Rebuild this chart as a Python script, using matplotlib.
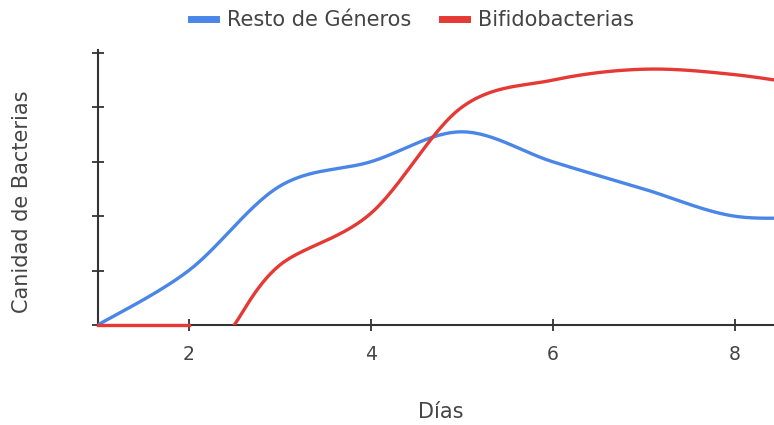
import numpy as np
import matplotlib.pyplot as plt
from matplotlib.lines import Line2D

# knots (Días vs relative count)
dias_resto = [1, 2, 3, 4, 5, 6, 7, 8, 9]
resto_generos = [0, 1.0, 2.55, 3.0, 3.55, 3.0, 2.5, 2.0, 2.0]

dias_bifido_a = [1, 2]
bifido_a = [0, 0]
dias_bifido_b = [2.5, 3, 4, 5, 6, 7, 8, 9]
bifido_b = [0, 1.1, 2.05, 4.0, 4.5, 4.7, 4.6, 4.35]

x_ticks = [2, 4, 6, 8]
y_ticks = [0, 1, 2, 3, 4, 5]

BLUE = '#4a86e8'
RED = '#e53935'
GREY = '#444444'


def smooth(xs, ys, n=30, k=1 / 6):
    # cardinal-spline style bezier through the knots, like a chart "function" curve
    xs = np.asarray(xs, float)
    ys = np.asarray(ys, float)
    if len(xs) < 3:
        return xs, ys
    px = np.concatenate([[xs[0]], xs, [xs[-1]]])
    py = np.concatenate([[ys[0]], ys, [ys[-1]]])
    outx, outy = [], []
    t = np.linspace(0, 1, n)
    for i in range(1, len(px) - 2):
        p0 = np.array([px[i], py[i]])
        p3 = np.array([px[i + 1], py[i + 1]])
        c1 = p0 + k * (p3 - np.array([px[i - 1], py[i - 1]]))
        c2 = p3 - k * (np.array([px[i + 2], py[i + 2]]) - p0)
        pts = ((1 - t) ** 3)[:, None] * p0 + (3 * (1 - t) ** 2 * t)[:, None] * c1 \
            + (3 * (1 - t) * t ** 2)[:, None] * c2 + (t ** 3)[:, None] * p3
        outx.extend(pts[:, 0])
        outy.extend(pts[:, 1])
    return np.array(outx), np.array(outy)


plt.rcParams['font.family'] = ['DejaVu Sans']

fig = plt.figure(figsize=(7.74, 4.25), dpi=100)
ax = fig.add_axes([0.126, 0.235, 0.874, 0.647])

bx, by = smooth(dias_resto, resto_generos)
ax.plot(bx, by, color=BLUE, lw=2.4, solid_capstyle='round', zorder=3)
ax.plot(dias_bifido_a, bifido_a, color=RED, lw=2.4, zorder=4, clip_on=False)
rx, ry = smooth(dias_bifido_b, bifido_b)
ax.plot(rx, ry, color=RED, lw=2.4, solid_capstyle='round', zorder=3)

ax.set_xlim(1, 8.43)
ax.set_ylim(0, 5.05)
ax.set_xticks(x_ticks)
ax.set_yticks(y_ticks)
ax.set_yticklabels([])
for s in ['top', 'right']:
    ax.spines[s].set_visible(False)
for s in ['left', 'bottom']:
    ax.spines[s].set_color('#333333')
    ax.spines[s].set_linewidth(1.5)
ax.tick_params(direction='inout', length=8, width=1.3, color='#333333',
               labelsize=13.5, labelcolor=GREY, pad=10)

ax.set_xlabel('Días', fontsize=15, color=GREY)
ax.xaxis.set_label_coords(0.507, -0.28)
ax.set_ylabel('Canidad de Bacterias', fontsize=15, color=GREY)
ax.yaxis.set_label_coords(-0.097, 0.45)

handles = [Line2D([], [], color=BLUE, lw=5), Line2D([], [], color=RED, lw=5)]
fig.legend(handles, ['Resto de Géneros', 'Bifidobacterias'], loc='upper center',
           bbox_to_anchor=(0.533, 1.02), ncol=2, frameon=False, fontsize=15,
           handlelength=1.2, handletextpad=0.5, columnspacing=1.5, labelcolor=GREY)

fig.savefig('out.png', dpi=100)
